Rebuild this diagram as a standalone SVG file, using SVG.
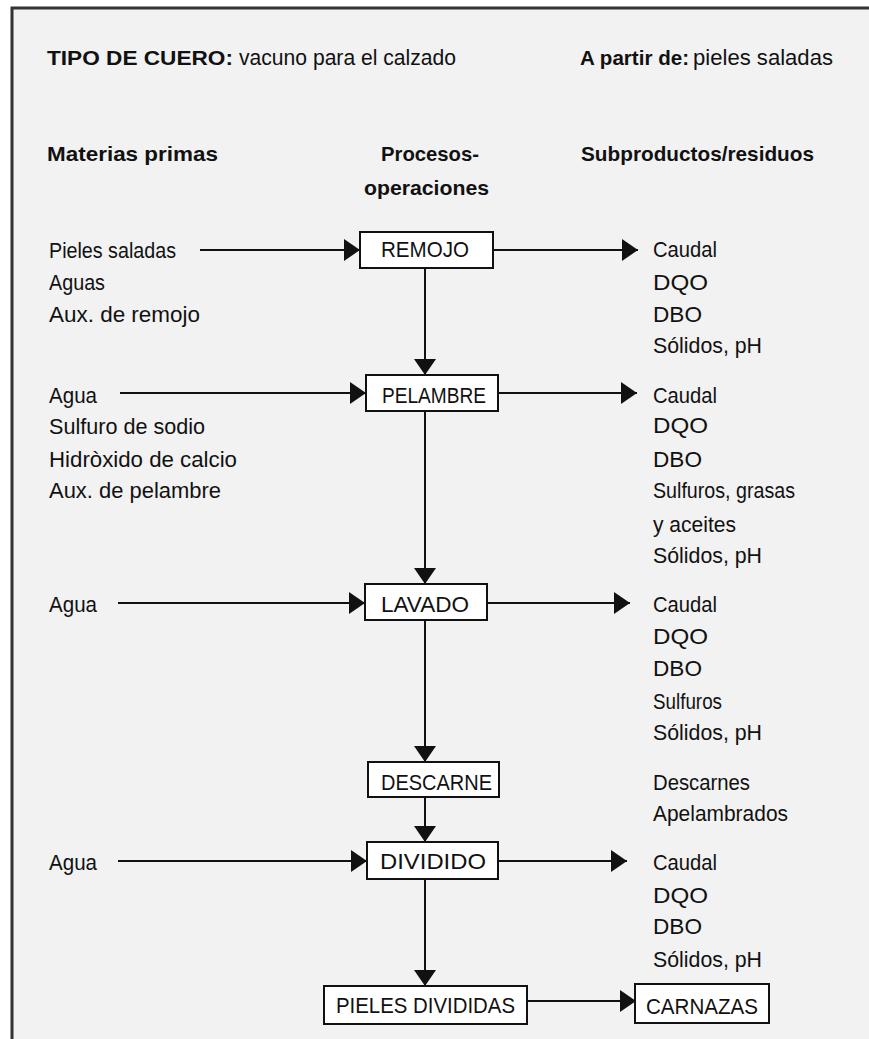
<svg xmlns="http://www.w3.org/2000/svg" width="869" height="1039" viewBox="0 0 869 1039">
<style>
.t{font-family:"Liberation Sans Narrow","Liberation Sans",Arial,sans-serif;font-size:22px;fill:#111}
.b{font-weight:bold;font-size:21px}
.box{fill:#fff;stroke:#111;stroke-width:2}
.c{stroke:#111;stroke-width:2;fill:none;marker-end:url(#ah)}
</style>
<defs>
<marker id="ah" markerUnits="userSpaceOnUse" markerWidth="16" markerHeight="22" refX="16" refY="11" orient="auto" viewBox="0 0 16 22">
<path d="M0,0 L16,11 L0,22 z" fill="#111"/>
</marker>
</defs>
<rect x="0" y="0" width="869" height="1039" fill="#fff"/>
<rect x="12" y="8" width="857" height="1031" fill="#f2f2f2"/>
<path d="M12,1039 V8 H869" fill="none" stroke="#333" stroke-width="3"/>

<g id="header">
<text class="t b" x="47" y="65" textLength="186" lengthAdjust="spacingAndGlyphs">TIPO DE CUERO:</text>
<text class="t" x="239" y="65" textLength="217" lengthAdjust="spacingAndGlyphs">vacuno para el calzado</text>
<text class="t b" x="580" y="65" textLength="109" lengthAdjust="spacingAndGlyphs">A partir de:</text>
<text class="t" x="693" y="65" textLength="140" lengthAdjust="spacingAndGlyphs">pieles saladas</text>
<text class="t b" x="47" y="161" textLength="171" lengthAdjust="spacingAndGlyphs">Materias primas</text>
<text class="t b" x="381" y="161" textLength="98" lengthAdjust="spacingAndGlyphs">Procesos-</text>
<text class="t b" x="364" y="195" textLength="125" lengthAdjust="spacingAndGlyphs">operaciones</text>
<text class="t b" x="581" y="161" textLength="233" lengthAdjust="spacingAndGlyphs">Subproductos/residuos</text>
</g>

<g id="connectors">
<path class="c" d="M200,250 H360"/>
<path class="c" d="M120,393 H366"/>
<path class="c" d="M118,603 H365"/>
<path class="c" d="M118,861 H367"/>
<path class="c" d="M493,250 H638"/>
<path class="c" d="M498,393 H637"/>
<path class="c" d="M487,603 H630"/>
<path class="c" d="M498,861 H627"/>
<path class="c" d="M425,268 V375"/>
<path class="c" d="M425,411 V584"/>
<path class="c" d="M425,620 V762"/>
<path class="c" d="M425,797 V842"/>
<path class="c" d="M425,879 V986"/>
<path class="c" d="M527,1001 H636"/>
</g>

<g id="remojo">
<rect class="box" x="360" y="232" width="133" height="36"/>
<text class="t" x="381" y="257" textLength="88" lengthAdjust="spacingAndGlyphs">REMOJO</text>
</g>
<g id="pelambre">
<rect class="box" x="366" y="375" width="132" height="36"/>
<text class="t" x="382" y="403" textLength="104" lengthAdjust="spacingAndGlyphs">PELAMBRE</text>
</g>
<g id="lavado">
<rect class="box" x="365" y="584" width="122" height="36"/>
<text class="t" x="381" y="612" textLength="88" lengthAdjust="spacingAndGlyphs">LAVADO</text>
</g>
<g id="descarne">
<rect class="box" x="368" y="762" width="131" height="35"/>
<text class="t" x="381" y="790" textLength="111" lengthAdjust="spacingAndGlyphs">DESCARNE</text>
</g>
<g id="dividido">
<rect class="box" x="367" y="842" width="131" height="37"/>
<text class="t" x="380" y="869" textLength="106" lengthAdjust="spacingAndGlyphs">DIVIDIDO</text>
</g>
<g id="pieles-divididas">
<rect class="box" x="324" y="986" width="203" height="38"/>
<text class="t" x="336" y="1013" textLength="179" lengthAdjust="spacingAndGlyphs">PIELES DIVIDIDAS</text>
</g>
<g id="carnazas">
<rect class="box" x="635" y="984" width="134" height="39"/>
<text class="t" x="646" y="1014" textLength="112" lengthAdjust="spacingAndGlyphs">CARNAZAS</text>
</g>

<g id="in-remojo">
<text class="t" x="49" y="258" textLength="127" lengthAdjust="spacingAndGlyphs">Pieles saladas</text>
<text class="t" x="49" y="290" textLength="56" lengthAdjust="spacingAndGlyphs">Aguas</text>
<text class="t" x="49" y="322" textLength="151" lengthAdjust="spacingAndGlyphs">Aux. de remojo</text>
</g>
<g id="in-pelambre">
<text class="t" x="49" y="403" textLength="48" lengthAdjust="spacingAndGlyphs">Agua</text>
<text class="t" x="49" y="434" textLength="156" lengthAdjust="spacingAndGlyphs">Sulfuro de sodio</text>
<text class="t" x="49" y="467" textLength="188" lengthAdjust="spacingAndGlyphs">Hidròxido de calcio</text>
<text class="t" x="49" y="498" textLength="172" lengthAdjust="spacingAndGlyphs">Aux. de pelambre</text>
</g>
<g id="in-lavado">
<text class="t" x="49" y="612" textLength="48" lengthAdjust="spacingAndGlyphs">Agua</text>
</g>
<g id="in-dividido">
<text class="t" x="49" y="870" textLength="48" lengthAdjust="spacingAndGlyphs">Agua</text>
</g>

<g id="out-remojo">
<text class="t" x="653" y="257" textLength="64" lengthAdjust="spacingAndGlyphs">Caudal</text>
<text class="t" x="653" y="290" textLength="55" lengthAdjust="spacingAndGlyphs">DQO</text>
<text class="t" x="653" y="322" textLength="49" lengthAdjust="spacingAndGlyphs">DBO</text>
<text class="t" x="653" y="353" textLength="109" lengthAdjust="spacingAndGlyphs">Sólidos, pH</text>
</g>
<g id="out-pelambre">
<text class="t" x="653" y="403" textLength="64" lengthAdjust="spacingAndGlyphs">Caudal</text>
<text class="t" x="653" y="433" textLength="55" lengthAdjust="spacingAndGlyphs">DQO</text>
<text class="t" x="653" y="467" textLength="49" lengthAdjust="spacingAndGlyphs">DBO</text>
<text class="t" x="653" y="498" textLength="142" lengthAdjust="spacingAndGlyphs">Sulfuros, grasas</text>
<text class="t" x="653" y="532" textLength="83" lengthAdjust="spacingAndGlyphs">y aceites</text>
<text class="t" x="653" y="563" textLength="109" lengthAdjust="spacingAndGlyphs">Sólidos, pH</text>
</g>
<g id="out-lavado">
<text class="t" x="653" y="612" textLength="64" lengthAdjust="spacingAndGlyphs">Caudal</text>
<text class="t" x="653" y="644" textLength="55" lengthAdjust="spacingAndGlyphs">DQO</text>
<text class="t" x="653" y="676" textLength="49" lengthAdjust="spacingAndGlyphs">DBO</text>
<text class="t" x="653" y="709" textLength="69" lengthAdjust="spacingAndGlyphs">Sulfuros</text>
<text class="t" x="653" y="740" textLength="109" lengthAdjust="spacingAndGlyphs">Sólidos, pH</text>
</g>
<g id="out-descarne">
<text class="t" x="653" y="790" textLength="97" lengthAdjust="spacingAndGlyphs">Descarnes</text>
<text class="t" x="653" y="821" textLength="135" lengthAdjust="spacingAndGlyphs">Apelambrados</text>
</g>
<g id="out-dividido">
<text class="t" x="653" y="870" textLength="64" lengthAdjust="spacingAndGlyphs">Caudal</text>
<text class="t" x="653" y="903" textLength="55" lengthAdjust="spacingAndGlyphs">DQO</text>
<text class="t" x="653" y="934" textLength="49" lengthAdjust="spacingAndGlyphs">DBO</text>
<text class="t" x="653" y="967" textLength="109" lengthAdjust="spacingAndGlyphs">Sólidos, pH</text>
</g>
</svg>
